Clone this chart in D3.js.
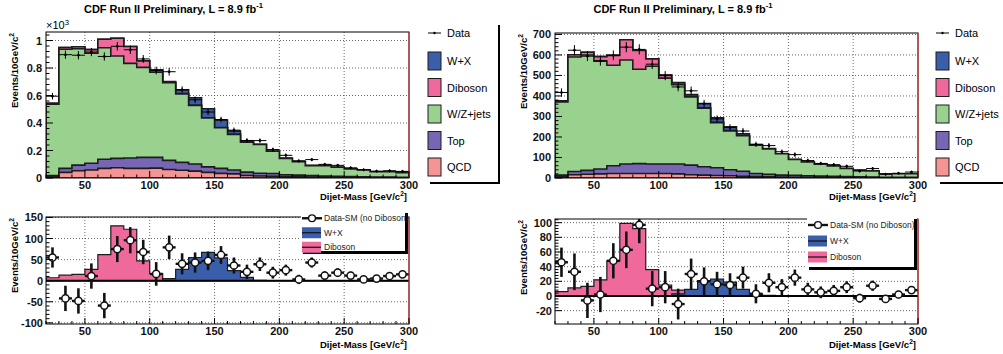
<!DOCTYPE html>
<html>
<head>
<meta charset="utf-8">
<script src="https://cdn.jsdelivr.net/npm/d3@7"></script>
<style>
  body { margin: 0; background: #fff; }
  svg { font-family: "Liberation Sans", Arial, sans-serif; }
</style>
</head>
<body>
<svg id="chart" width="1003" height="354"></svg>
<script>
// bins: 10 GeV wide, 20..300
const massLo = d3.range(20, 300, 10);

// ---- left selection ----
const qcdA = [12, 41, 53, 58, 70, 75, 70, 70, 72, 62, 56, 50, 41, 34, 30, 18, 15, 13, 10, 9, 7, 6, 5, 4, 4, 3, 3, 2];
const topA = [6, 29, 41, 49, 66, 68, 75, 80, 78, 66, 58, 52, 40, 36, 28, 25, 20, 20, 14, 12, 10, 8, 7, 6, 5, 4, 4, 3];
const wzjA = [518, 866, 846, 800, 811, 744, 689, 655, 620, 565, 498, 426, 355, 296, 259, 218, 209, 162, 119, 98, 73, 76, 66, 55, 49, 39, 39, 34];
const dibA = [7, 13, 15, 27, 62, 130, 122, 47, 17, 4, 2, 1, 1, 1, 0, 0, 0, 0, 0, 0, 0, 0, 0, 0, 0, 0, 0, 0];
const wxA  = [0, 0, 0, 0, 0, 0, 0, 0, 0, 5, 27, 55, 67, 54, 24, 8, 1, 0, 0, 0, 0, 0, 0, 0, 0, 0, 0, 0];
const dataA = [595, 897, 893, 916, 884, 958, 933, 866, 782, 773, 642, 569, 480, 425, 348, 273, 272, 207, 165, 124, 134, 99, 92, 74, 60, 50, 53, 48];
const residA = [55, -42, -48, 11, -59, 75, 96, 68, 16, 79, 40, 43, 47, 61, 36, 21, 39, 19, 25, 3, 43, 12, 19, 12, 3, 5, 11, 15];
const errA = [24, 30, 30, 30, 30, 31, 31, 29, 28, 28, 25, 24, 22, 21, 19, 17, 16, 14, 13, 11, 12, 10, 10, 9, 8, 7, 7, 7];

// ---- right selection ----
const qcdB = [8, 16, 18, 20, 22, 22, 22, 22, 22, 20, 16, 14, 12, 11, 8, 7, 6, 5, 4, 4, 3, 3, 2, 2, 2, 1, 1, 1];
const topB = [6, 16, 19, 24, 38, 46, 48, 46, 46, 48, 47, 41, 38, 29, 25, 15, 12, 9, 9, 7, 6, 5, 5, 4, 3, 3, 3, 2];
const wzjB = [357, 558, 563, 526, 490, 507, 460, 477, 419, 387, 332, 285, 220, 190, 173, 138, 124, 104, 77, 67, 58, 51, 39, 32, 29, 17, 17, 18];
const dibB = [6, 11, 13, 22, 48, 99, 92, 36, 15, 8, 3, 2, 1, 1, 0, 0, 0, 0, 0, 0, 0, 0, 0, 0, 0, 0, 0, 0];
const wxB  = [0, 0, 0, 0, 0, 0, 0, 0, 0, 3, 9, 21, 23, 19, 9, 3, 1, 0, 0, 0, 0, 0, 0, 0, 0, 0, 0, 0];
const dataB = [417, 623, 594, 572, 598, 638, 627, 555, 499, 444, 425, 362, 288, 246, 229, 164, 158, 128, 114, 85, 71, 65, 57, 34, 46, 18, 23, 29];
const residB = [46, 33, -6, 2, 48, 63, 97, 10, 12, -11, 30, 20, 16, 15, 25, 3, 18, 12, 25, 9, 5, 7, 12, -3, 14, -4, 2, 8];
const errB = [20, 25, 24, 24, 24, 25, 25, 24, 22, 21, 21, 19, 17, 16, 15, 13, 13, 11, 11, 9, 8, 8, 8, 6, 7, 4, 5, 5];

const xTicks = [50, 100, 150, 200, 250, 300];
const legendNames = ['W+X', 'Diboson', 'W/Z+jets', 'Top', 'QCD'];
const stackKeys = ['qcd', 'top', 'wzj', 'dib', 'wx'];
const colors = {wx: '#3b5eab', dib: '#f0699d', wzj: '#99d18f', top: '#7766b4', qcd: '#f59494'};
const legendKeys = ['wx', 'dib', 'wzj', 'top', 'qcd'];

const svg = d3.select('#chart');
const ink = '#1c1c1c';

function sup(textSel, base, s, size) {
  textSel.append('tspan').text(base);
  textSel.append('tspan').attr('dy', -size * 0.4).attr('font-size', size * 0.7).text(s);
}

function drawPanel(cfg) {
  const x = d3.scaleLinear().domain([20, 300]).range([cfg.left, cfg.right]);
  const yT = d3.scaleLinear().domain([0, cfg.topMax]).range([cfg.topY1, cfg.topY0]);
  const yB = d3.scaleLinear().domain([cfg.botMin, cfg.botMax]).range([cfg.botY1, cfg.botY0]);

  const rows = massLo.map((m, i) => ({
    m, qcd: cfg.qcd[i], top: cfg.top[i], wzj: cfg.wzj[i], dib: cfg.dib[i], wx: cfg.wx[i]
  }));
  const series = d3.stack().keys(stackKeys)(rows);

  function steps(vals) {
    const p = massLo.map((m, i) => ({m, v: vals[i]}));
    p.push({m: 300, v: vals[vals.length - 1]});
    return p;
  }

  // ---------- upper pad ----------
  const clipT = 'clipT' + cfg.id;
  svg.append('clipPath').attr('id', clipT).append('rect')
    .attr('x', cfg.left).attr('y', cfg.topY0)
    .attr('width', cfg.right - cfg.left).attr('height', cfg.topY1 - cfg.topY0);

  const gT = svg.append('g');
  const grid = gT.append('g').attr('stroke', '#444').attr('stroke-dasharray', '1,2').attr('stroke-width', 0.8);
  xTicks.filter(t => t < 300).forEach(t => {
    grid.append('line').attr('x1', x(t)).attr('x2', x(t)).attr('y1', cfg.topY0).attr('y2', cfg.topY1);
  });
  cfg.topTicks.filter(t => t > 0).forEach(t => {
    grid.append('line').attr('x1', cfg.left).attr('x2', cfg.right).attr('y1', yT(t)).attr('y2', yT(t));
  });

  const plotT = gT.append('g').attr('clip-path', `url(#${clipT})`);
  const areaT = d3.area().curve(d3.curveStepAfter)
    .x(d => x(d.m)).y0(yT(0)).y1(d => yT(d.v));
  for (let k = stackKeys.length - 1; k >= 0; k--) {
    const s = series[k];
    plotT.append('path')
      .attr('d', areaT(steps(s.map(d => d[1]))))
      .attr('fill', colors[stackKeys[k]])
      .attr('stroke', ink).attr('stroke-width', 1.6);
  }

  // data crosses
  const dg = plotT.append('g').attr('stroke', '#000').attr('stroke-width', 1);
  massLo.forEach((m, i) => {
    const v = cfg.data[i], e = cfg.err[i];
    dg.append('line').attr('x1', x(m)).attr('x2', x(m + 10)).attr('y1', yT(v)).attr('y2', yT(v));
    dg.append('line').attr('x1', x(m + 5)).attr('x2', x(m + 5)).attr('y1', yT(v - e)).attr('y2', yT(v + e));
    dg.append('circle').attr('cx', x(m + 5)).attr('cy', yT(v)).attr('r', 1).attr('fill', '#000');
  });

  // frame + ticks
  gT.append('rect').attr('x', cfg.left).attr('y', cfg.topY0)
    .attr('width', cfg.right - cfg.left).attr('height', cfg.topY1 - cfg.topY0)
    .attr('fill', 'none').attr('stroke', '#000').attr('stroke-width', 1);
  gT.append('line').attr('x1', cfg.right).attr('x2', cfg.right).attr('y1', cfg.topY0).attr('y2', cfg.topY1)
    .attr('stroke', '#d33').attr('stroke-width', 1);

  const tk = gT.append('g').attr('stroke', '#000').attr('stroke-width', 1);
  d3.range(20, 301, 10).forEach(t => {
    const len = t % 50 === 0 ? 7 : 3.5;
    tk.append('line').attr('x1', x(t)).attr('x2', x(t)).attr('y1', cfg.topY1).attr('y2', cfg.topY1 - len);
  });
  d3.range(0, cfg.topMax, cfg.topMinor).forEach(t => {
    const major = cfg.topTicks.includes(t);
    tk.append('line').attr('x1', cfg.left).attr('x2', cfg.left + (major ? 7 : 3.5)).attr('y1', yT(t)).attr('y2', yT(t));
  });

  const lab = gT.append('g').attr('font-size', 11).attr('font-weight', 'bold').attr('fill', '#111');
  cfg.topTicks.forEach(t => {
    lab.append('text').attr('x', cfg.left - 4).attr('y', yT(t) + 4).attr('text-anchor', 'end').text(cfg.topFmt(t));
  });
  xTicks.forEach(t => {
    lab.append('text').attr('x', x(t)).attr('y', cfg.topY1 + 11).attr('text-anchor', 'middle').text(t);
  });

  // axis titles
  const xt = gT.append('text').attr('x', cfg.right - 2).attr('y', cfg.topY1 + 22)
    .attr('text-anchor', 'end').attr('font-size', 9.5).attr('font-weight', 'bold');
  sup(xt, 'Dijet-Mass [GeV/c', '2', 9.5);
  xt.append('tspan').attr('dy', 9.5 * 0.4).text(']');

  const yt = gT.append('text').attr('transform', `translate(${cfg.left - 28},${cfg.topY0 + 1}) rotate(-90)`)
    .attr('text-anchor', 'end').attr('font-size', 9.5).attr('font-weight', 'bold');
  sup(yt, 'Events/10GeV/c', '2', 9.5);

  if (cfg.exponent) {
    const ex = gT.append('text').attr('x', cfg.left).attr('y', cfg.topY0 - 3).attr('font-size', 11);
    sup(ex, '\u00d710', '3', 11);
  }

  // title
  const tt = gT.append('text').attr('x', cfg.titleX).attr('y', 12.5)
    .attr('text-anchor', 'middle').attr('font-size', 11).attr('font-weight', 'bold');
  sup(tt, 'CDF Run II Preliminary, L = 8.9 fb', '-1', 11);

  // legend
  const lg = gT.append('g');
  lg.append('line').attr('x1', cfg.legX).attr('x2', cfg.legX + 13).attr('y1', 33).attr('y2', 33)
    .attr('stroke', '#000').attr('stroke-width', 1);
  lg.append('circle').attr('cx', cfg.legX + 6.5).attr('cy', 33).attr('r', 1.2);
  lg.append('text').attr('x', cfg.legX + 19).attr('y', 37).attr('font-size', 11).text('Data');
  legendKeys.forEach((k, i) => {
    const cy = 61 + i * 26.5;
    lg.append('rect').attr('x', cfg.legX).attr('y', cy - 9).attr('width', 13).attr('height', 18)
      .attr('fill', colors[k]).attr('stroke', ink).attr('stroke-width', 1);
    lg.append('text').attr('x', cfg.legX + 19).attr('y', cy + 4).attr('font-size', 11).text(legendNames[i]);
  });
  lg.append('rect').attr('x', cfg.legShadowX0).attr('y', 182).attr('width', cfg.legShadowX1 - cfg.legShadowX0).attr('height', 2);
  if (cfg.legShadowX1 < 1003) {
    lg.append('rect').attr('x', cfg.legShadowX1 - 2).attr('y', 25).attr('width', 2).attr('height', 159);
  }

  // ---------- lower pad ----------
  const clipB = 'clipB' + cfg.id;
  svg.append('clipPath').attr('id', clipB).append('rect')
    .attr('x', cfg.left).attr('y', cfg.botY0)
    .attr('width', cfg.right - cfg.left).attr('height', cfg.botY1 - cfg.botY0);

  const gB = svg.append('g');
  const gridB = gB.append('g').attr('stroke', '#444').attr('stroke-dasharray', '1,2').attr('stroke-width', 0.8);
  xTicks.filter(t => t < 300).forEach(t => {
    gridB.append('line').attr('x1', x(t)).attr('x2', x(t)).attr('y1', cfg.botY0).attr('y2', cfg.botY1);
  });
  cfg.botTicks.filter(t => t !== 0).forEach(t => {
    gridB.append('line').attr('x1', cfg.left).attr('x2', cfg.right).attr('y1', yB(t)).attr('y2', yB(t));
  });

  const plotB = gB.append('g').attr('clip-path', `url(#${clipB})`);
  const areaB = d3.area().curve(d3.curveStepAfter)
    .x(d => x(d.m)).y0(yB(0)).y1(d => yB(d.v));
  [['dib', cfg.dib], ['wx', cfg.wx]].forEach(([k, vals]) => {
    plotB.append('path').attr('d', areaB(steps(vals)))
      .attr('fill', colors[k]).attr('stroke', ink).attr('stroke-width', 1.2);
  });
  plotB.append('line').attr('x1', cfg.left).attr('x2', cfg.right).attr('y1', yB(0)).attr('y2', yB(0))
    .attr('stroke', '#000').attr('stroke-width', 2);

  const rg = plotB.append('g').attr('stroke', '#111');
  massLo.forEach((m, i) => {
    const v = cfg.resid[i], e = cfg.err[i];
    rg.append('line').attr('x1', x(m + 5)).attr('x2', x(m + 5)).attr('y1', yB(v - e)).attr('y2', yB(v + e)).attr('stroke-width', 2.6);
    rg.append('line').attr('x1', x(m)).attr('x2', x(m + 10)).attr('y1', yB(v)).attr('y2', yB(v)).attr('stroke-width', 2.4);
    rg.append('circle').attr('cx', x(m + 5)).attr('cy', yB(v)).attr('r', 3.6).attr('fill', '#fff').attr('stroke-width', 1.5);
  });

  gB.append('rect').attr('x', cfg.left).attr('y', cfg.botY0)
    .attr('width', cfg.right - cfg.left).attr('height', cfg.botY1 - cfg.botY0)
    .attr('fill', 'none').attr('stroke', '#000').attr('stroke-width', 1);
  gB.append('line').attr('x1', cfg.right).attr('x2', cfg.right).attr('y1', cfg.botY0).attr('y2', cfg.botY1)
    .attr('stroke', '#d33').attr('stroke-width', 1);

  const tkB = gB.append('g').attr('stroke', '#000').attr('stroke-width', 1);
  d3.range(20, 301, 10).forEach(t => {
    const len = t % 50 === 0 ? 6 : 3;
    tkB.append('line').attr('x1', x(t)).attr('x2', x(t)).attr('y1', cfg.botY1).attr('y2', cfg.botY1 - len);
  });
  d3.range(cfg.botTicks[0], cfg.botMax, cfg.botMinor).forEach(t => {
    const major = cfg.botTicks.includes(t);
    tkB.append('line').attr('x1', cfg.left).attr('x2', cfg.left + (major ? 7 : 3.5)).attr('y1', yB(t)).attr('y2', yB(t));
  });

  const labB = gB.append('g').attr('font-size', 11).attr('font-weight', 'bold').attr('fill', '#111');
  cfg.botTicks.forEach(t => {
    labB.append('text').attr('x', cfg.left - 3).attr('y', yB(t) + 4).attr('text-anchor', 'end').text(t);
  });
  xTicks.forEach(t => {
    labB.append('text').attr('x', x(t)).attr('y', cfg.botY1 + 11).attr('text-anchor', 'middle').text(t);
  });

  const xtB = gB.append('text').attr('x', cfg.right - 2).attr('y', cfg.botY1 + 24)
    .attr('text-anchor', 'end').attr('font-size', 9.5).attr('font-weight', 'bold');
  sup(xtB, 'Dijet-Mass [GeV/c', '2', 9.5);
  xtB.append('tspan').attr('dy', 9.5 * 0.4).text(']');

  const ytB = gB.append('text').attr('transform', `translate(${cfg.left - 28},${cfg.botY0 + 1}) rotate(-90)`)
    .attr('text-anchor', 'end').attr('font-size', 9.5).attr('font-weight', 'bold');
  sup(ytB, 'Events/10GeV/c', '2', 9.5);

  // lower legend
  const L = cfg.botLeg;
  const bl = gB.append('g');
  bl.append('rect').attr('x', L.x).attr('y', L.y).attr('width', L.w).attr('height', L.h).attr('fill', '#fff');
  bl.append('rect').attr('x', L.x + L.w - 3).attr('y', L.y + 3).attr('width', 3).attr('height', L.h - 1).attr('fill', '#000');
  bl.append('rect').attr('x', L.x + 2).attr('y', L.y + L.h - 1).attr('width', L.w - 2).attr('height', 3).attr('fill', '#000');
  const e0 = L.y + L.dy * 0.5 + 1;
  bl.append('line').attr('x1', L.x + 1).attr('x2', L.x + 21).attr('y1', e0).attr('y2', e0)
    .attr('stroke', '#111').attr('stroke-width', 2.4);
  bl.append('circle').attr('cx', L.x + 11).attr('cy', e0).attr('r', 3.4)
    .attr('fill', '#fff').attr('stroke', '#111').attr('stroke-width', 1.4);
  bl.append('text').attr('x', L.x + 23).attr('y', e0 + 3).attr('font-size', 8.5).attr('fill', '#222')
    .text('Data-SM (no Diboson)');
  [['wx', 'W+X'], ['dib', 'Diboson']].forEach(([k, name], i) => {
    const cy = e0 + L.dy * (i + 1);
    bl.append('rect').attr('x', L.x + 1).attr('y', cy - 5.5).attr('width', 19).attr('height', 11).attr('fill', colors[k]);
    bl.append('line').attr('x1', L.x + 1).attr('x2', L.x + 20).attr('y1', cy).attr('y2', cy)
      .attr('stroke', '#111').attr('stroke-width', 1.2);
    bl.append('text').attr('x', L.x + 23).attr('y', cy + 3).attr('font-size', 8.5).attr('fill', '#222').text(name);
  });
}

drawPanel({
  id: 'A', left: 46, right: 409,
  topY0: 32, topY1: 178, topMax: 1062, topMinor: 40,
  topTicks: [0, 200, 400, 600, 800, 1000], topFmt: t => t === 0 ? '0' : (t === 1000 ? '1' : d3.format('.1f')(t / 1000)),
  exponent: true,
  botY0: 217, botY1: 324, botMin: -102.7, botMax: 151, botMinor: 10,
  botTicks: [-100, -50, 0, 50, 100, 150],
  qcd: qcdA, top: topA, wzj: wzjA, dib: dibA, wx: wxA,
  data: dataA, resid: residA, err: errA,
  titleX: 173.5, legX: 428, legShadowX0: 430, legShadowX1: 500,
  botLeg: {x: 301, y: 210, w: 107, h: 42, dy: 14.5}
});

drawPanel({
  id: 'B', left: 555, right: 918,
  topY0: 33, topY1: 178, topMax: 707, topMinor: 20,
  topTicks: [0, 100, 200, 300, 400, 500, 600, 700], topFmt: t => t,
  exponent: false,
  botY0: 219, botY1: 324, botMin: -38.2, botMax: 105, botMinor: 4,
  botTicks: [-20, 0, 20, 40, 60, 80, 100],
  qcd: qcdB, top: topB, wzj: wzjB, dib: dibB, wx: wxB,
  data: dataB, resid: residB, err: errB,
  titleX: 683, legX: 936, legShadowX0: 940, legShadowX1: 1003,
  botLeg: {x: 807, y: 216, w: 110, h: 52, dy: 16}
});
</script>
</body>
</html>
